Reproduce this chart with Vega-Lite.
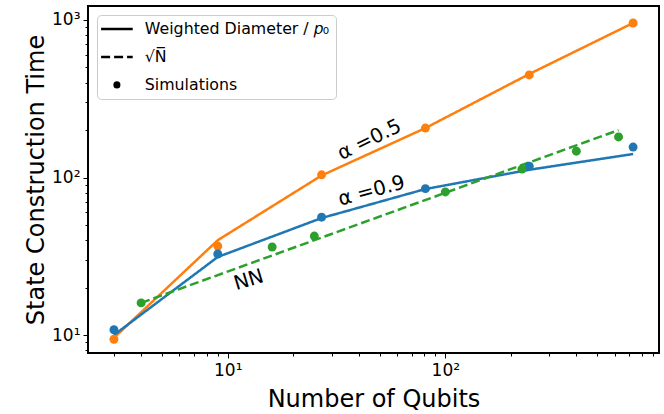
{
  "$schema": "https://vega.github.io/schema/vega-lite/v6.json",
  "autosize": {"type": "none"},
  "padding": {"left": 88, "top": 6, "right": 5, "bottom": 61},
  "width": 571,
  "height": 347,
  "config": {
    "font": "DejaVu Sans",
    "view": {"stroke": "black", "strokeWidth": 2},
    "legend": {"symbolSize": 900},
    "axis": {
      "grid": false,
      "domain": false,
      "tickColor": "black",
      "tickWidth": 1,
      "labelColor": "black",
      "titleColor": "black",
      "labelFont": "DejaVu Sans",
      "titleFont": "DejaVu Sans",
      "labelFontSize": 17,
      "titleFontSize": 24,
      "titleFontWeight": "normal",
      "labelOverlap": false,
      "labelBound": false
    }
  },
  "datasets": {
    "lines": [
      {"series": "a05", "kind": "Weighted Diameter / 𝑝₀", "N": 3, "T": 9.6},
      {"series": "a05", "kind": "Weighted Diameter / 𝑝₀", "N": 9, "T": 40},
      {"series": "a05", "kind": "Weighted Diameter / 𝑝₀", "N": 27, "T": 103},
      {"series": "a05", "kind": "Weighted Diameter / 𝑝₀", "N": 81, "T": 206},
      {"series": "a05", "kind": "Weighted Diameter / 𝑝₀", "N": 243, "T": 454},
      {"series": "a05", "kind": "Weighted Diameter / 𝑝₀", "N": 729, "T": 957},
      {"series": "a09", "kind": "Weighted Diameter / 𝑝₀", "N": 3, "T": 10},
      {"series": "a09", "kind": "Weighted Diameter / 𝑝₀", "N": 9, "T": 31.3},
      {"series": "a09", "kind": "Weighted Diameter / 𝑝₀", "N": 27, "T": 55.3},
      {"series": "a09", "kind": "Weighted Diameter / 𝑝₀", "N": 81, "T": 84.5},
      {"series": "a09", "kind": "Weighted Diameter / 𝑝₀", "N": 243, "T": 112},
      {"series": "a09", "kind": "Weighted Diameter / 𝑝₀", "N": 729, "T": 141},
      {"series": "nn", "kind": "√N̅", "N": 4, "T": 16},
      {"series": "nn", "kind": "√N̅", "N": 16, "T": 32},
      {"series": "nn", "kind": "√N̅", "N": 25, "T": 40},
      {"series": "nn", "kind": "√N̅", "N": 100, "T": 80},
      {"series": "nn", "kind": "√N̅", "N": 225, "T": 120},
      {"series": "nn", "kind": "√N̅", "N": 400, "T": 160},
      {"series": "nn", "kind": "√N̅", "N": 625, "T": 200}
    ],
    "points": [
      {"series": "a05", "kind": "Simulations", "N": 3, "T": 9.4},
      {"series": "a05", "kind": "Simulations", "N": 9, "T": 36.7},
      {"series": "a05", "kind": "Simulations", "N": 27, "T": 104},
      {"series": "a05", "kind": "Simulations", "N": 81, "T": 206},
      {"series": "a05", "kind": "Simulations", "N": 243, "T": 448},
      {"series": "a05", "kind": "Simulations", "N": 729, "T": 957},
      {"series": "a09", "kind": "Simulations", "N": 3, "T": 10.8},
      {"series": "a09", "kind": "Simulations", "N": 9, "T": 32.7},
      {"series": "a09", "kind": "Simulations", "N": 27, "T": 56},
      {"series": "a09", "kind": "Simulations", "N": 81, "T": 85},
      {"series": "a09", "kind": "Simulations", "N": 243, "T": 118},
      {"series": "a09", "kind": "Simulations", "N": 729, "T": 156},
      {"series": "nn", "kind": "Simulations", "N": 4, "T": 16},
      {"series": "nn", "kind": "Simulations", "N": 16, "T": 36.2},
      {"series": "nn", "kind": "Simulations", "N": 25, "T": 42.5},
      {"series": "nn", "kind": "Simulations", "N": 100, "T": 81},
      {"series": "nn", "kind": "Simulations", "N": 225, "T": 113},
      {"series": "nn", "kind": "Simulations", "N": 400, "T": 147},
      {"series": "nn", "kind": "Simulations", "N": 625, "T": 181}
    ]
  },
  "encoding": {
    "x": {
      "field": "N", "type": "quantitative",
      "scale": {"type": "log", "domain": [2.28, 959], "nice": false},
      "axis": {
        "title": "Number of Qubits",
        "values": [3, 4, 5, 6, 7, 8, 9, 10, 20, 30, 40, 50, 60, 70, 80, 90, 100, 200, 300, 400, 500, 600, 700, 800, 900],
        "labelExpr": "datum.value == 10 ? '10¹' : datum.value == 100 ? '10²' : ''",
        "tickSize": {"condition": {"test": "datum.value == 10 || datum.value == 100", "value": 5}, "value": 3},
        "labelPadding": 4,
        "titlePadding": 9
      }
    },
    "y": {
      "field": "T", "type": "quantitative",
      "scale": {"type": "log", "domain": [7.69, 1227], "nice": false},
      "axis": {
        "title": "State Construction Time",
        "values": [8, 9, 10, 20, 30, 40, 50, 60, 70, 80, 90, 100, 200, 300, 400, 500, 600, 700, 800, 900, 1000],
        "labelExpr": "datum.value == 10 ? '10¹' : datum.value == 100 ? '10²' : datum.value == 1000 ? '10³' : ''",
        "tickSize": {"condition": {"test": "datum.value == 10 || datum.value == 100 || datum.value == 1000", "value": 5}, "value": 3},
        "labelPadding": 3,
        "titlePadding": 3
      }
    }
  },
  "layer": [
    {
      "data": {"name": "lines"},
      "mark": {"type": "line", "strokeWidth": 2.5},
      "encoding": {
        "color": {
          "field": "series", "type": "nominal",
          "scale": {"domain": ["a05", "a09", "nn"], "range": ["#ff7f0e", "#1f77b4", "#2ca02c"]},
          "legend": null
        },
        "strokeDash": {
          "field": "kind", "type": "nominal",
          "scale": {"domain": ["Weighted Diameter / 𝑝₀", "√N̅", "Simulations"], "range": [[1, 0], [9, 4], [1, 0]]},
          "legend": {
            "title": null,
            "orient": "top-left",
            "offset": 9,
            "padding": 6,
            "cornerRadius": 4,
            "strokeColor": "#cccccc",
            "fillColor": "white",
            "labelFontSize": 15.8,
            "labelFont": "DejaVu Sans",
            "labelColor": "black",
            "labelLimit": 400,
            "labelOffset": 20,
            "symbolOffset": 6,
            "symbolSize": 900,
            "rowPadding": 11,
            "encode": {
              "symbols": {
                "update": {
                  "fill": {"value": "black"},
                  "stroke": {"value": "black"},
                  "size": {"signal": "datum.value == 'Simulations' ? 50 : 1000"},
                  "strokeWidth": {"signal": "datum.value == 'Simulations' ? 0 : 2.5"}
                }
              }
            }
          }
        },
        "detail": {"field": "series"}
      }
    },
    {
      "data": {"name": "points"},
      "mark": {"type": "point", "filled": true, "size": 80, "opacity": 1},
      "encoding": {
        "color": {"field": "series", "type": "nominal", "legend": null},
        "shape": {
          "field": "kind", "type": "nominal",
          "scale": {"domain": ["Weighted Diameter / 𝑝₀", "√N̅", "Simulations"], "range": ["stroke", "stroke", "circle"]},
          "legend": {
            "title": null,
            "orient": "top-left",
            "offset": 9,
            "padding": 6,
            "cornerRadius": 4,
            "strokeColor": "#cccccc",
            "fillColor": "white",
            "labelFontSize": 15.8,
            "labelFont": "DejaVu Sans",
            "labelColor": "black",
            "labelLimit": 400,
            "labelOffset": 20,
            "symbolOffset": 6,
            "symbolSize": 900,
            "rowPadding": 11,
            "encode": {
              "symbols": {
                "update": {
                  "fill": {"value": "black"},
                  "stroke": {"value": "black"},
                  "size": {"signal": "datum.value == 'Simulations' ? 50 : 1000"},
                  "strokeWidth": {"signal": "datum.value == 'Simulations' ? 0 : 2.5"}
                }
              }
            }
          }
        }
      }
    },
    {
      "data": {"values": [{"N": 44.8, "T": 173, "label": "α =0.5"}]},
      "mark": {"type": "text", "angle": 334, "fontSize": 20, "font": "DejaVu Sans", "color": "black"},
      "encoding": {"text": {"field": "label"}}
    },
    {
      "data": {"values": [{"N": 45.8, "T": 82, "label": "α =0.9"}]},
      "mark": {"type": "text", "angle": 345, "fontSize": 20, "font": "DejaVu Sans", "color": "black"},
      "encoding": {"text": {"field": "label"}}
    },
    {
      "data": {"values": [{"N": 12.5, "T": 22.3, "label": "NN"}]},
      "mark": {"type": "text", "angle": 343, "fontSize": 20, "font": "DejaVu Sans", "color": "black"},
      "encoding": {"text": {"field": "label"}}
    }
  ]
}
